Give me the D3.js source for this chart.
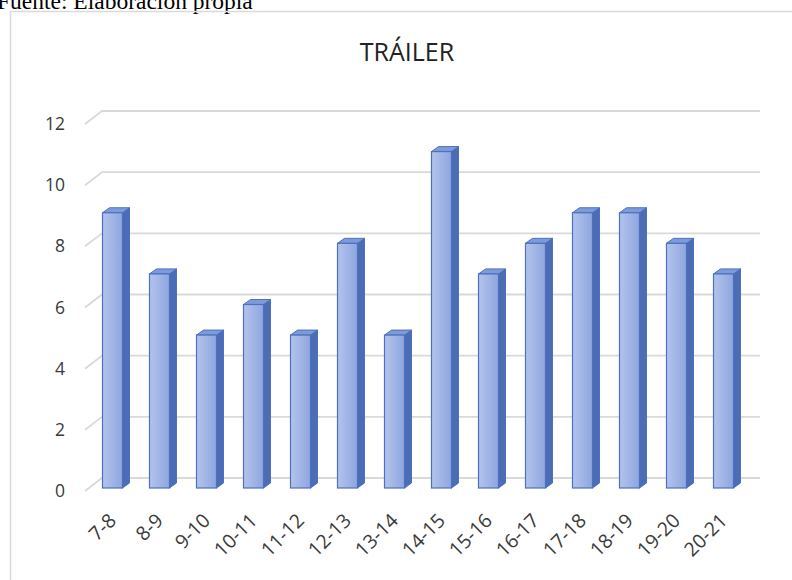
<!DOCTYPE html>
<html>
<head>
<meta charset="utf-8">
<script src="https://cdn.jsdelivr.net/npm/d3@7"></script>
<style>
  html, body { margin: 0; padding: 0; background: #fff; overflow: hidden; }
  svg { display: block; }
</style>
</head>
<body>
<svg id="chart" width="792" height="580"></svg>
<script>
// chart data
const categories = ['7-8', '8-9', '9-10', '10-11', '11-12', '12-13', '13-14', '14-15', '15-16', '16-17', '17-18', '18-19', '19-20', '20-21'];
const values = [9, 7, 5, 6, 5, 8, 5, 11, 7, 8, 9, 9, 8, 7];
const yTicks = [0, 2, 4, 6, 8, 10, 12];
const title = 'TRÁILER';
const caption = 'Fuente: Elaboración propia';

const COLORS = {
    grid: '#d9d9d9',
    text: '#3a3a3a',
    barStroke: '#4d70c0',
    side: '#4c6db5',
    top: '#7f9ad8',
    border: '#d9d9d9'
};

// 3d offsets
const wall = { dx: 17, dy: -13 };
const barOff = { dx: 4, dy: -3 };
const barDepth = { dx: 7, dy: -5 };
const barW = 20;

const svg = d3.select('#chart');

const defs = svg.append('defs');
const grad = defs.append('linearGradient').attr('id', 'frontGrad')
    .attr('x1', '0%').attr('x2', '100%').attr('y1', '0%').attr('y2', '0%');
grad.append('stop').attr('offset', '0%').attr('stop-color', '#b3c3ec');
grad.append('stop').attr('offset', '100%').attr('stop-color', '#8ea6df');

// caption above chart (cut off at the top, as in the source)
svg.append('text')
    .attr('x', -3)
    .attr('y', 9)
    .attr('font-family', '"Liberation Serif", "Times New Roman", serif')
    .attr('font-size', 23.5)
    .attr('fill', '#000')
    .text(caption);

// chart border
svg.append('rect')
    .attr('x', 10.5).attr('y', 11.5)
    .attr('width', 800).attr('height', 600)
    .attr('fill', 'none')
    .attr('stroke', COLORS.border)
    .attr('stroke-width', 1.5);

svg.append('text')
    .attr('x', 407)
    .attr('y', 61)
    .attr('text-anchor', 'middle')
    .attr('font-family', '"Open Sans", "Noto Sans", sans-serif')
    .attr('font-size', 25)
    .attr('fill', '#222')
    .text(title);

const x = d3.scaleBand().domain(categories).range([85, 743]);
const y = d3.scaleLinear().domain([0, 12]).range([491, 124]);

// gridlines on back wall with diagonal at the side
svg.append('g').selectAll('path')
    .data(yTicks)
    .enter()
    .append('path')
    .attr('d', (v) => {
        var x0 = x.range()[0], x1 = x.range()[1];
        return 'M' + x0 + ',' + y(v) + 'L' + (x0 + wall.dx) + ',' + (y(v) + wall.dy) + 'L' + (x1 + wall.dx) + ',' + (y(v) + wall.dy);
    })
    .attr('fill', 'none')
    .attr('stroke', COLORS.grid)
    .attr('stroke-width', 1.8);

svg.append('g').selectAll('text')
    .data(yTicks)
    .enter()
    .append('text')
    .attr('x', 65)
    .attr('y', (v) => y(v))
    .attr('dy', '0.35em')
    .attr('text-anchor', 'end')
    .attr('font-family', '"Open Sans", "Noto Sans", sans-serif')
    .attr('font-size', 17.5)
    .attr('fill', COLORS.text)
    .text((v) => v);

// bars
const bars = svg.append('g').selectAll('g')
    .data(categories.map((c, i) => ({ cat: c, value: values[i] })))
    .enter()
    .append('g');

function barGeom (d) {
    var cx = x(d.cat) + x.bandwidth() / 2 + barOff.dx;
    var x0 = cx - barW / 2, x1 = cx + barW / 2;
    var base = y(0) + barOff.dy, top = y(d.value) + barOff.dy;
    return { x0: x0, x1: x1, base: base, top: top };
}

bars.append('path')
    .attr('d', (d) => {
        var g = barGeom(d);
        return 'M' + g.x1 + ',' + g.top + 'L' + (g.x1 + barDepth.dx) + ',' + (g.top + barDepth.dy) +
            'L' + (g.x1 + barDepth.dx) + ',' + (g.base + barDepth.dy) + 'L' + g.x1 + ',' + g.base + 'Z';
    })
    .attr('fill', COLORS.side)
    .attr('stroke', COLORS.barStroke)
    .attr('stroke-width', 1);

bars.append('path')
    .attr('d', (d) => {
        var g = barGeom(d);
        return 'M' + g.x0 + ',' + g.top + 'L' + (g.x0 + barDepth.dx) + ',' + (g.top + barDepth.dy) +
            'L' + (g.x1 + barDepth.dx) + ',' + (g.top + barDepth.dy) + 'L' + g.x1 + ',' + g.top + 'Z';
    })
    .attr('fill', COLORS.top)
    .attr('stroke', COLORS.barStroke)
    .attr('stroke-width', 1);

bars.append('rect')
    .attr('x', (d) => barGeom(d).x0)
    .attr('y', (d) => barGeom(d).top)
    .attr('width', barW)
    .attr('height', (d) => barGeom(d).base - barGeom(d).top)
    .attr('fill', 'url(#frontGrad)')
    .attr('stroke', COLORS.barStroke)
    .attr('stroke-width', 1.2);

// rotated category labels
svg.append('g').selectAll('text')
    .data(categories)
    .enter()
    .append('text')
    .attr('transform', (c) => 'translate(' + (x(c) + x.bandwidth() / 2 + 4) + ',' + 517 + ') rotate(-45)')
    .attr('text-anchor', 'end')
    .attr('dy', '0.35em')
    .attr('font-family', '"Open Sans", "Noto Sans", sans-serif')
    .attr('font-size', 19.5)
    .attr('fill', COLORS.text)
    .text((c) => c);
</script>
</body>
</html>
